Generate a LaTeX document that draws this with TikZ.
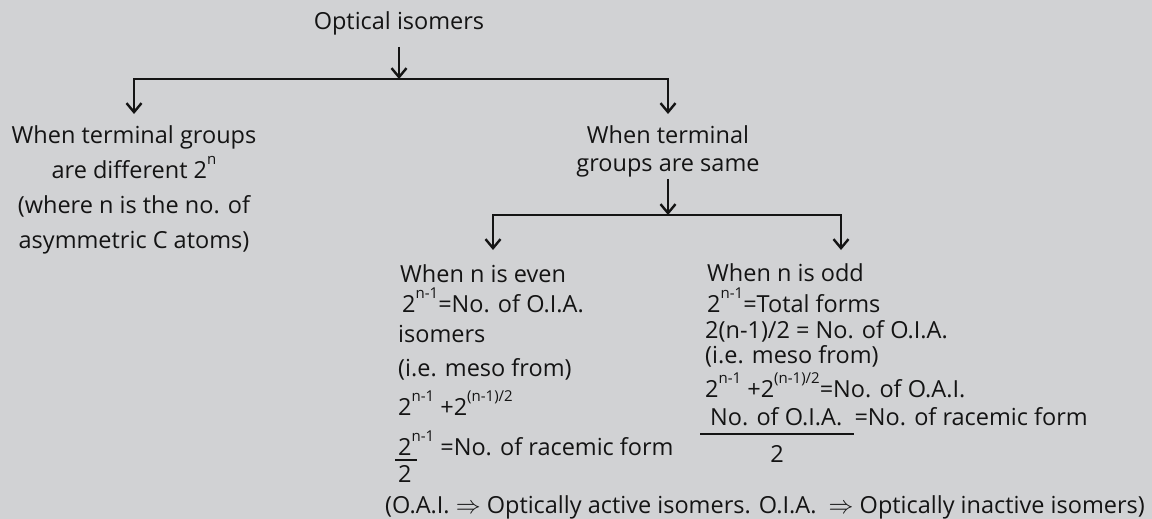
\documentclass[tikz,border=0pt]{standalone}
\usepackage{fontspec}
\setmainfont{Open Sans}
\usetikzlibrary{arrows.meta,positioning,calc}
\definecolor{paper}{HTML}{D1D2D4}
\definecolor{ink}  {HTML}{141414}
% raised small exponent
\newcommand{\pw}[1]{\raisebox{14pt}{\fontsize{15}{15}\selectfont #1}}
\tikzset{
  every node/.style={font=\fontsize{23.5}{28}\selectfont, text=ink},
  % --- nodes
  head/.style = {inner xsep=0pt, inner ysep=11pt, align=center},
  row/.style  = {anchor=base west, inner sep=0pt},
  % --- edges
  e/.style    = {-{Straight Barb[length=9pt,width=15pt]}, line width=2.4pt, draw=ink},
  bar/.style  = {line width=2.4pt, draw=ink},
}

\begin{document}
\begin{tikzpicture}[x=1pt,y=-1pt]
  \fill[paper] (0,0) rectangle (1152,519);
  \useasboundingbox (0,0) rectangle (1152,519);

  % --- first level
  \node[head, anchor=base] (root) at (399,30) {Optical isomers};
  \node[head, anchor=north, font=\fontsize{23.5}{35}\selectfont] (diff) at (134,114)
    {When terminal groups\\are different 2\pw{n}\\(where n is the no. of\\asymmetric C atoms)};
  \node[head, anchor=north] (same) at (668,114) {When terminal\\groups are same};
  \coordinate (t1) at (399,79);
  \draw[e] (root) -- (t1);
  \draw[e] (t1) -| (diff);
  \draw[e] (t1) -| (same);

  % --- second level
  \coordinate (t2) at (668,215);
  \coordinate (a1) at (493,250);
  \coordinate (a2) at (841,250);
  \draw[e, shorten <=-9pt] (same) -- (t2);
  \draw[e] (t2) -| (a1);
  \draw[e] (t2) -| (a2);

  % --- n even
  \node[row] (ev1) at (400,282) {When n is even};
  \node[row] (ev2) at (402,312) {2\pw{n-1}=No. of O.I.A.};
  \node[row] (ev3) at (398,342) {isomers};
  \node[row] (ev4) at (398,376) {(i.e. meso from)};
  \node[row] (ev5) at (398,415) {2\pw{n-1} +2\pw{(n-1)/2}};
  \node[row] (ev6) at (398,455) {2\pw{n-1} =No. of racemic form};
  \node[row] (ev7) at (398,482) {2};
  \draw[bar] (395,460) -- (417,460);

  % --- n odd
  \node[row] (od1) at (707,281) {When n is odd};
  \node[row] (od2) at (707,312) {2\pw{n-1}=Total forms};
  \node[row] (od3) at (705,338) {2(n-1)/2 = No. of O.I.A.};
  \node[row] (od4) at (705,363) {(i.e. meso from)};
  \node[row] (od5) at (705,397) {2\pw{n-1} +2\pw{(n-1)/2}=No. of O.A.I.};
  \node[row] (od6) at (710,425) {No. of O.I.A.\ \ =No. of racemic form};
  \node[row, anchor=base] (od7) at (777,462) {2};
  \draw[bar] (700,434) -- (854,434);

  \node[row] (note) at (385,513)
    {(O.A.I. $\Rightarrow$ Optically active isomers. O.I.A.\ \ $\Rightarrow$ Optically inactive isomers)};
\end{tikzpicture}
\end{document}
